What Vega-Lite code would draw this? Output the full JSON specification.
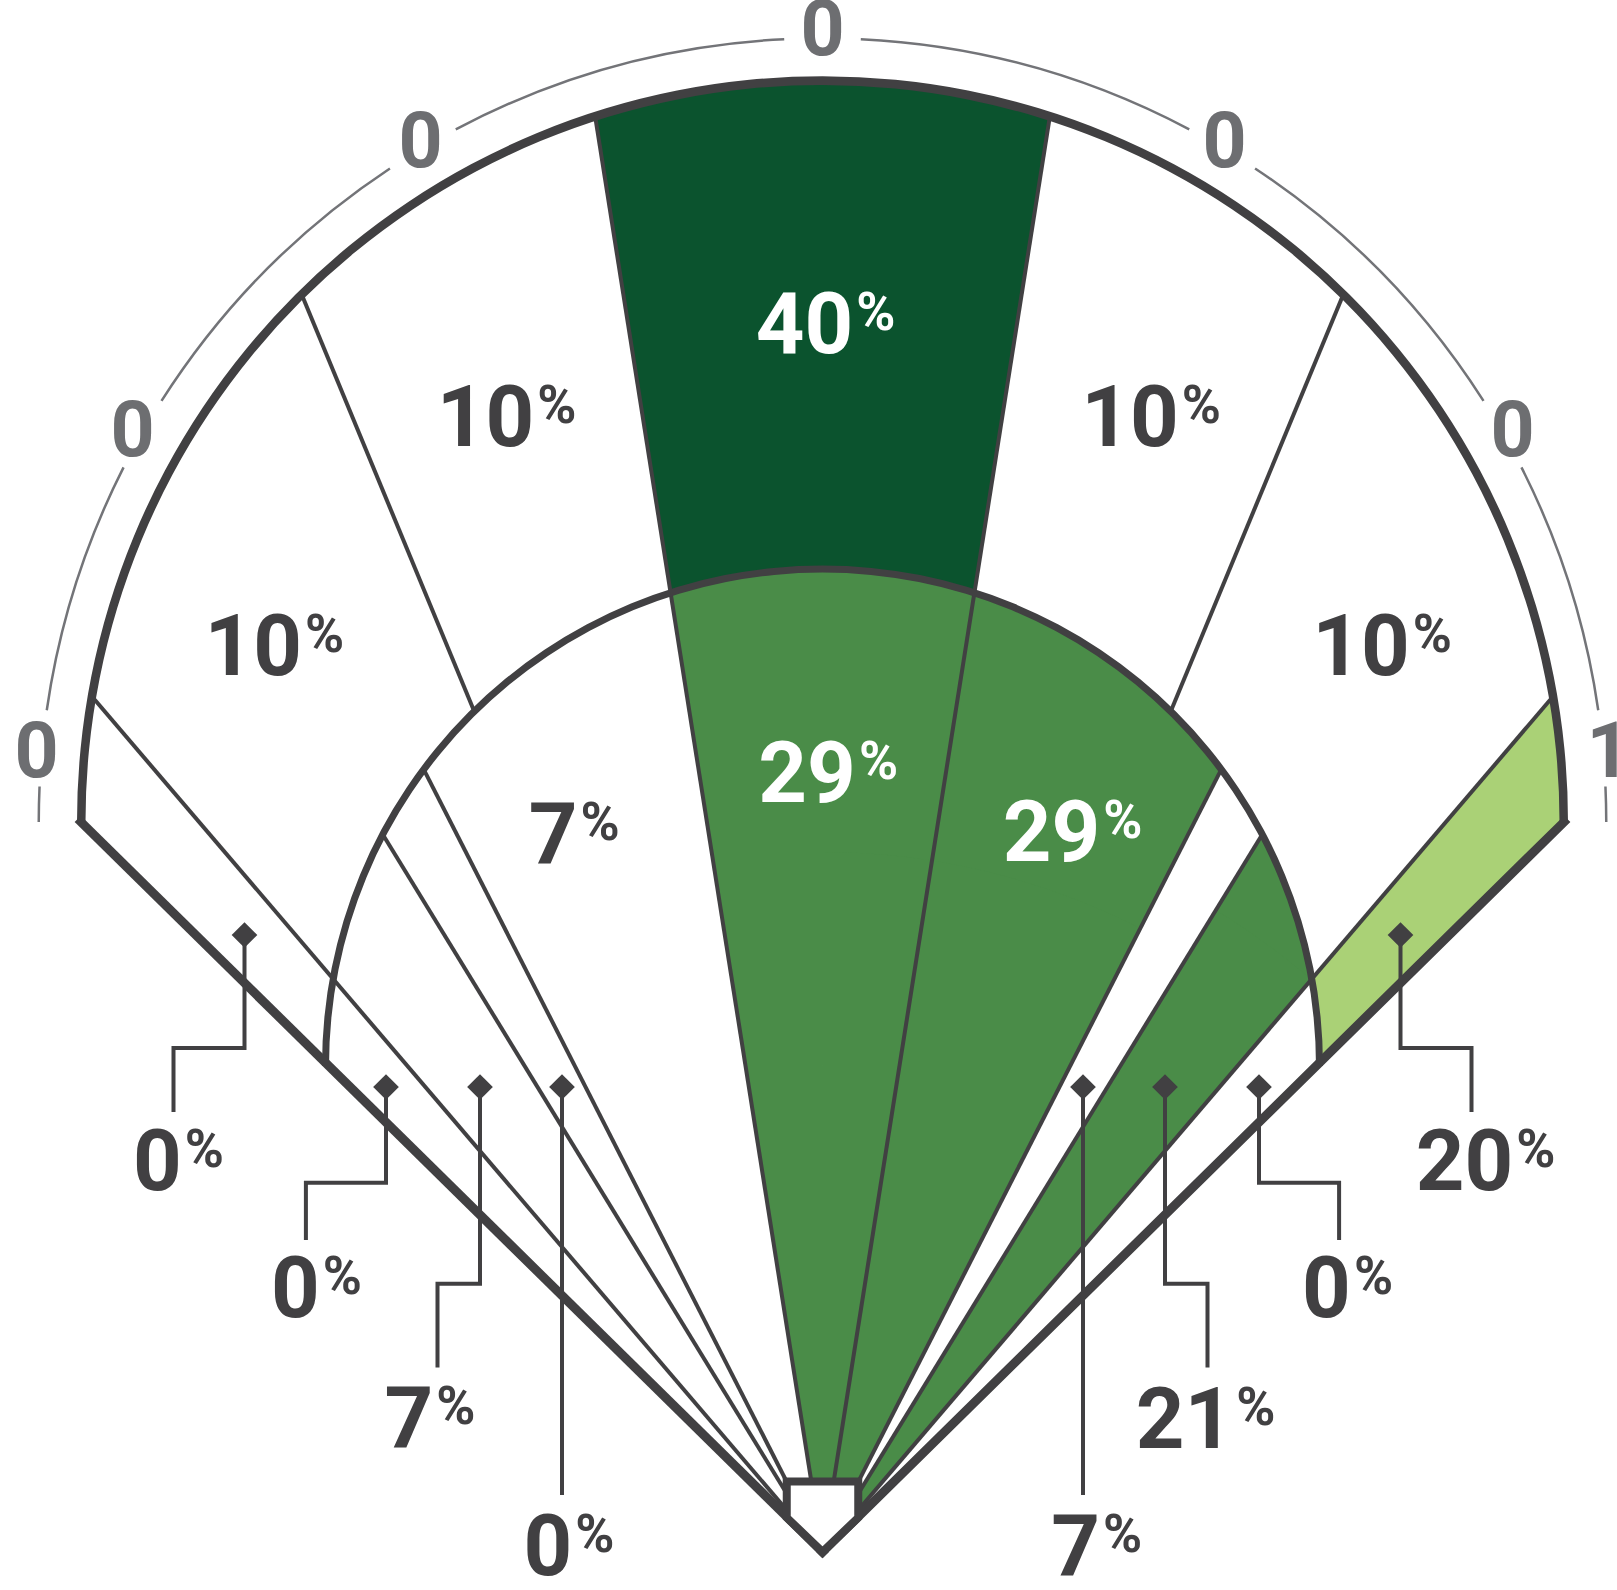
{
  "$schema": "https://vega.github.io/schema/vega-lite/v6.json",
  "width": 1617,
  "height": 1590,
  "autosize": {"type": "none"},
  "padding": 0,
  "background": "white",
  "config": {"view": {"stroke": null}},
  "datasets": {
    "fills": [
      {"cx": 0, "cy": 0, "a0": -9, "a1": 9, "r0": 0, "r1": 1700, "pct": 40},
      {"cx": 0, "cy": 0, "a0": 40.5, "a1": 50, "r0": 0, "r1": 1700, "pct": 20},
      {"cx": 0, "cy": 486, "a0": 0, "a1": 360, "r0": 0, "r1": 497, "pct": 29},
      {"cx": 0, "cy": 0, "a0": -60, "a1": -9, "r0": 0, "r1": 1700, "pct": 0},
      {"cx": 0, "cy": 0, "a0": 27, "a1": 31.5, "r0": 0, "r1": 1700, "pct": 7},
      {"cx": 0, "cy": 486, "a0": 80, "a1": 93, "r0": 0, "r1": 497, "pct": 0},
      {"cx": 0, "cy": 0, "a0": 0, "a1": 27, "r0": 0, "r1": 700, "pct": 29},
      {"cx": 0, "cy": 0, "a0": 31.5, "a1": 40.5, "r0": 0, "r1": 753, "pct": 21},
      {"cx": 0, "cy": 0, "a0": 40.5, "a1": 50, "r0": 0, "r1": 697, "pct": 0},
      {"cx": 0, "cy": 730, "a0": 0, "a1": 360, "r0": 741, "r1": 1400, "pct": 0},
      {"cx": 0, "cy": 0, "a0": 45.45, "a1": 314.55, "r0": 0, "r1": 1900, "pct": 0}
    ],
    "rays": [
      {"x": 0, "y": 0, "x2": -730.3, "y2": 855.2},
      {"x": 0, "y": 0, "x2": -227.3, "y2": 1435.3},
      {"x": 0, "y": 0, "x2": 227.3, "y2": 1435.3},
      {"x": 0, "y": 0, "x2": 730.3, "y2": 855.2},
      {"x": -348.2, "y": 840.6, "x2": -520.7, "y2": 1257.2},
      {"x": 348.2, "y": 840.6, "x2": 520.7, "y2": 1257.2},
      {"x": 0, "y": 0, "x2": -439.7, "y2": 717.5},
      {"x": 0, "y": 0, "x2": -398.8, "y2": 782.6},
      {"x": 0, "y": 0, "x2": 398.8, "y2": 782.6},
      {"x": 0, "y": 0, "x2": 439.7, "y2": 717.5}
    ],
    "bands": [
      {"cx": 0, "cy": 730, "a0": -90, "a1": 90, "r0": 737, "r1": 745.5},
      {"cx": 0, "cy": 486, "a0": -90, "a1": 90, "r0": 493.5, "r1": 500.5}
    ],
    "foul": [
      {"x": 0, "y": 0, "x2": -741.5, "y2": 730},
      {"x": 0, "y": 0, "x2": 741.5, "y2": 730}
    ],
    "plate": [{"x": 0, "y": 35.25}],
    "ring": [
      {"cx": 0, "cy": 730, "a0": -90, "a1": -87.4, "r0": 782.5, "r1": 785},
      {"cx": 0, "cy": 730, "a0": -81.8, "a1": -63.1, "r0": 782.5, "r1": 785},
      {"cx": 0, "cy": 730, "a0": -57.5, "a1": -33.5, "r0": 782.5, "r1": 785},
      {"cx": 0, "cy": 730, "a0": -27.9, "a1": -2.8, "r0": 782.5, "r1": 785},
      {"cx": 0, "cy": 730, "a0": 2.8, "a1": 27.9, "r0": 782.5, "r1": 785},
      {"cx": 0, "cy": 730, "a0": 33.5, "a1": 57.5, "r0": 782.5, "r1": 785},
      {"cx": 0, "cy": 730, "a0": 63.1, "a1": 81.8, "r0": 782.5, "r1": 785},
      {"cx": 0, "cy": 730, "a0": 87.4, "a1": 90, "r0": 782.5, "r1": 785}
    ],
    "ringLabels": [
      {"n": 0, "x": -786, "y": 775},
      {"n": 0, "x": -690, "y": 1096.5},
      {"n": 0, "x": -402, "y": 1385.5},
      {"n": 0, "x": 0, "y": 1497},
      {"n": 0, "x": 402, "y": 1385.5},
      {"n": 0, "x": 690, "y": 1096.5},
      {"n": 1, "x": 786, "y": 775}
    ],
    "leaders": [
      {"id": 1, "seq": 0, "x": -578, "y": 617}, {"id": 1, "seq": 1, "x": -578, "y": 504}, {"id": 1, "seq": 2, "x": -649, "y": 504}, {"id": 1, "seq": 3, "x": -649, "y": 440},
      {"id": 2, "seq": 0, "x": -436.5, "y": 465}, {"id": 2, "seq": 1, "x": -436.5, "y": 369.3}, {"id": 2, "seq": 2, "x": -516.6, "y": 369.3}, {"id": 2, "seq": 3, "x": -516.6, "y": 312},
      {"id": 3, "seq": 0, "x": -342.5, "y": 465}, {"id": 3, "seq": 1, "x": -342.5, "y": 268.3}, {"id": 3, "seq": 2, "x": -385, "y": 268.3}, {"id": 3, "seq": 3, "x": -385, "y": 184.5},
      {"id": 4, "seq": 0, "x": -260.5, "y": 465}, {"id": 4, "seq": 1, "x": -260.5, "y": 57},
      {"id": 5, "seq": 0, "x": 260.5, "y": 465}, {"id": 5, "seq": 1, "x": 260.5, "y": 57},
      {"id": 6, "seq": 0, "x": 342.5, "y": 465}, {"id": 6, "seq": 1, "x": 342.5, "y": 268.3}, {"id": 6, "seq": 2, "x": 385, "y": 268.3}, {"id": 6, "seq": 3, "x": 385, "y": 184.5},
      {"id": 7, "seq": 0, "x": 436.5, "y": 465}, {"id": 7, "seq": 1, "x": 436.5, "y": 369.3}, {"id": 7, "seq": 2, "x": 516.6, "y": 369.3}, {"id": 7, "seq": 3, "x": 516.6, "y": 312},
      {"id": 8, "seq": 0, "x": 578, "y": 617}, {"id": 8, "seq": 1, "x": 578, "y": 504}, {"id": 8, "seq": 2, "x": 649, "y": 504}, {"id": 8, "seq": 3, "x": 649, "y": 440}
    ],
    "diamonds": [
      {"x": -578, "y": 617}, {"x": -436.5, "y": 465}, {"x": -342.5, "y": 465}, {"x": -260.5, "y": 465},
      {"x": 260.5, "y": 465}, {"x": 342.5, "y": 465}, {"x": 436.5, "y": 465}, {"x": 578, "y": 617}
    ],
    "labels": [
      {"pct": 40, "callout": false, "x": 30.8, "y": 1198.7},
      {"pct": 10, "callout": false, "x": -288.3, "y": 1106.5},
      {"pct": 10, "callout": false, "x": 356.2, "y": 1106.5},
      {"pct": 10, "callout": false, "x": -520.4, "y": 876.6},
      {"pct": 10, "callout": false, "x": 587.2, "y": 876.6},
      {"pct": 7, "callout": false, "x": -245, "y": 689},
      {"pct": 29, "callout": false, "x": 33.4, "y": 749.7},
      {"pct": 29, "callout": false, "x": 277.8, "y": 691},
      {"pct": 0, "callout": true, "x": -640.8, "y": 362},
      {"pct": 0, "callout": true, "x": -502.8, "y": 235},
      {"pct": 7, "callout": true, "x": -389.2, "y": 105.3},
      {"pct": 0, "callout": true, "x": -250.2, "y": -22.7},
      {"pct": 7, "callout": true, "x": 277.5, "y": -22.7},
      {"pct": 21, "callout": true, "x": 410.8, "y": 103.7},
      {"pct": 0, "callout": true, "x": 528.4, "y": 235},
      {"pct": 20, "callout": true, "x": 690.8, "y": 362}
    ]
  },
  "layer": [
    {
      "data": {"name": "fills"},
      "mark": {"type": "arc"},
      "encoding": {
        "x": {"field": "cx", "type": "quantitative", "scale": {"domain": [-822.5, 794.5], "nice": false, "zero": false}, "axis": null},
        "y": {"field": "cy", "type": "quantitative", "scale": {"domain": [-38, 1552], "nice": false, "zero": false}, "axis": null},
        "theta": {"field": "a0", "type": "quantitative", "stack": null, "scale": {"type": "linear", "domain": [0, 360], "range": [0, 6.283185307179586], "nice": false, "zero": false}},
        "theta2": {"field": "a1"},
        "radius": {"field": "r1", "type": "quantitative", "stack": null, "scale": {"type": "linear", "domain": [0, 1000], "range": [0, 1000], "nice": false, "zero": false}},
        "radius2": {"field": "r0"},
        "color": {"field": "pct", "type": "quantitative", "scale": {"type": "threshold", "domain": [15, 20.5, 35], "range": ["#ffffff", "#aad176", "#4a8c48", "#0b532e"]}, "legend": null}
      }
    },
    {
      "data": {"name": "rays"},
      "mark": {"type": "rule", "strokeWidth": 4, "color": "#414042"},
      "encoding": {
        "x": {"field": "x", "type": "quantitative", "scale": {"domain": [-822.5, 794.5], "nice": false, "zero": false}, "axis": null},
        "y": {"field": "y", "type": "quantitative", "scale": {"domain": [-38, 1552], "nice": false, "zero": false}, "axis": null},
        "x2": {"field": "x2"},
        "y2": {"field": "y2"}
      }
    },
    {
      "data": {"name": "bands"},
      "mark": {"type": "arc", "color": "#414042"},
      "encoding": {
        "x": {"field": "cx", "type": "quantitative", "scale": {"domain": [-822.5, 794.5], "nice": false, "zero": false}, "axis": null},
        "y": {"field": "cy", "type": "quantitative", "scale": {"domain": [-38, 1552], "nice": false, "zero": false}, "axis": null},
        "theta": {"field": "a0", "type": "quantitative", "stack": null, "scale": {"type": "linear", "domain": [0, 360], "range": [0, 6.283185307179586], "nice": false, "zero": false}},
        "theta2": {"field": "a1"},
        "radius": {"field": "r1", "type": "quantitative", "stack": null, "scale": {"type": "linear", "domain": [0, 1000], "range": [0, 1000], "nice": false, "zero": false}},
        "radius2": {"field": "r0"}
      }
    },
    {
      "data": {"name": "foul"},
      "mark": {"type": "rule", "strokeWidth": 9, "color": "#414042", "strokeCap": "square"},
      "encoding": {
        "x": {"field": "x", "type": "quantitative", "scale": {"domain": [-822.5, 794.5], "nice": false, "zero": false}, "axis": null},
        "y": {"field": "y", "type": "quantitative", "scale": {"domain": [-38, 1552], "nice": false, "zero": false}, "axis": null},
        "x2": {"field": "x2"},
        "y2": {"field": "y2"}
      }
    },
    {
      "data": {"name": "plate"},
      "mark": {"type": "point", "shape": "M -0.993 -0.979 L 0.993 -0.979 L 0.993 0.021 L 0 0.979 L -0.993 0.021 Z", "size": 5184, "filled": true, "fill": "#ffffff", "stroke": "#414042", "strokeWidth": 8, "opacity": 1, "strokeJoin": "miter"},
      "encoding": {
        "x": {"field": "x", "type": "quantitative", "scale": {"domain": [-822.5, 794.5], "nice": false, "zero": false}, "axis": null},
        "y": {"field": "y", "type": "quantitative", "scale": {"domain": [-38, 1552], "nice": false, "zero": false}, "axis": null}
      }
    },
    {
      "data": {"name": "ring"},
      "mark": {"type": "arc", "color": "#737478"},
      "encoding": {
        "x": {"field": "cx", "type": "quantitative", "scale": {"domain": [-822.5, 794.5], "nice": false, "zero": false}, "axis": null},
        "y": {"field": "cy", "type": "quantitative", "scale": {"domain": [-38, 1552], "nice": false, "zero": false}, "axis": null},
        "theta": {"field": "a0", "type": "quantitative", "stack": null, "scale": {"type": "linear", "domain": [0, 360], "range": [0, 6.283185307179586], "nice": false, "zero": false}},
        "theta2": {"field": "a1"},
        "radius": {"field": "r1", "type": "quantitative", "stack": null, "scale": {"type": "linear", "domain": [0, 1000], "range": [0, 1000], "nice": false, "zero": false}},
        "radius2": {"field": "r0"}
      }
    },
    {
      "data": {"name": "ringLabels"},
      "mark": {"type": "text", "font": "Roboto", "fontWeight": "bold", "fontSize": 77, "align": "center", "baseline": "alphabetic", "color": "#6d6e71"},
      "encoding": {
        "x": {"field": "x", "type": "quantitative", "scale": {"domain": [-822.5, 794.5], "nice": false, "zero": false}, "axis": null},
        "y": {"field": "y", "type": "quantitative", "scale": {"domain": [-38, 1552], "nice": false, "zero": false}, "axis": null},
        "text": {"field": "n", "type": "quantitative", "format": "d"}
      }
    },
    {
      "data": {"name": "leaders"},
      "mark": {"type": "line", "strokeWidth": 4, "color": "#414042", "strokeJoin": "miter", "strokeCap": "butt"},
      "encoding": {
        "x": {"field": "x", "type": "quantitative", "scale": {"domain": [-822.5, 794.5], "nice": false, "zero": false}, "axis": null},
        "y": {"field": "y", "type": "quantitative", "scale": {"domain": [-38, 1552], "nice": false, "zero": false}, "axis": null},
        "detail": {"field": "id", "type": "nominal"},
        "order": {"field": "seq", "type": "quantitative"}
      }
    },
    {
      "data": {"name": "diamonds"},
      "mark": {"type": "point", "shape": "diamond", "size": 660, "filled": true, "color": "#414042", "opacity": 1},
      "encoding": {
        "x": {"field": "x", "type": "quantitative", "scale": {"domain": [-822.5, 794.5], "nice": false, "zero": false}, "axis": null},
        "y": {"field": "y", "type": "quantitative", "scale": {"domain": [-38, 1552], "nice": false, "zero": false}, "axis": null}
      }
    },
    {
      "data": {"name": "labels"},
      "mark": {"type": "text", "font": "Roboto", "fontWeight": "bold", "fontSize": 85, "align": "right", "baseline": "alphabetic"},
      "encoding": {
        "x": {"field": "x", "type": "quantitative", "scale": {"domain": [-822.5, 794.5], "nice": false, "zero": false}, "axis": null},
        "y": {"field": "y", "type": "quantitative", "scale": {"domain": [-38, 1552], "nice": false, "zero": false}, "axis": null},
        "text": {"field": "pct", "type": "quantitative", "format": "d"},
        "color": {"condition": {"test": "!datum.callout && datum.pct > 20", "value": "#ffffff"}, "value": "#414042"}
      }
    },
    {
      "data": {"name": "labels"},
      "mark": {"type": "text", "font": "Roboto", "fontWeight": "bold", "fontSize": 53, "align": "left", "baseline": "alphabetic", "dx": 3, "dy": -23, "text": "%"},
      "encoding": {
        "x": {"field": "x", "type": "quantitative", "scale": {"domain": [-822.5, 794.5], "nice": false, "zero": false}, "axis": null},
        "y": {"field": "y", "type": "quantitative", "scale": {"domain": [-38, 1552], "nice": false, "zero": false}, "axis": null},
        "color": {"condition": {"test": "!datum.callout && datum.pct > 20", "value": "#ffffff"}, "value": "#414042"}
      }
    }
  ]
}
